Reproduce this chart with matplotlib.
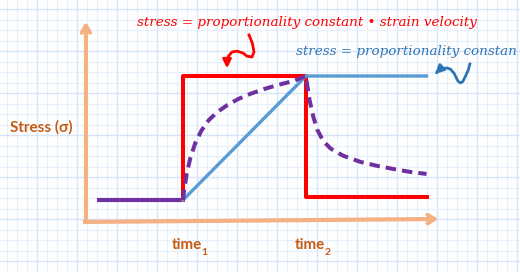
import numpy as np
import matplotlib
matplotlib.use('Agg')
import matplotlib.pyplot as plt

# time in units where time1 = 1 and time2 = 2, stress in units of the step height
time_ticks = ['time', 'time']
time_subs = ['1', '2']
tick_pos = [1.0, 2.0]

base_t = [0.30, 1.0]
base_s = [0.0, 0.0]

# red: stress proportional to strain velocity (step on, step off)
red_t = [1.0, 1.0, 2.0, 2.0, 2.98]
red_s = [0.0, 1.0, 1.0, 0.024, 0.024]

# blue: stress proportional to strain (ramp, then hold)
blue_t = [1.0, 2.0, 2.98]
blue_s = [0.0, 1.0, 1.0]

# purple dashed: viscoelastic response
purple_t = [1.0, 1.008, 1.03, 1.06, 1.10, 1.15, 1.21, 1.28, 1.36, 1.45, 1.55,
            1.66, 1.78, 1.90, 2.0, 2.008, 2.03, 2.06, 2.09, 2.14, 2.2, 2.3,
            2.44, 2.58, 2.71, 2.85, 2.98]
purple_s = [0.0, 0.07, 0.21, 0.34, 0.46, 0.56, 0.645, 0.71, 0.765, 0.815, 0.857,
            0.895, 0.93, 0.96, 1.0, 0.94, 0.80, 0.67, 0.57, 0.475, 0.415, 0.358,
            0.308, 0.275, 0.25, 0.226, 0.21]

# hand-drawn squiggly pointers (last point is the arrow tip)
red_sq_t = [1.537, 1.565, 1.577, 1.561, 1.52, 1.488, 1.44, 1.398, 1.37, 1.358, 1.358]
red_sq_s = [1.331, 1.26, 1.194, 1.153, 1.16, 1.185, 1.20, 1.194, 1.16, 1.105, 1.04]
blue_sq_t = [3.333, 3.32, 3.301, 3.275, 3.255, 3.235, 3.205, 3.175, 3.146, 3.11, 3.08, 3.033]
blue_sq_s = [1.097, 1.05, 1.008, 0.955, 0.944, 0.96, 1.02, 1.055, 1.065, 1.06, 1.045, 1.0]

label_font = ['Lato', 'DejaVu Sans']
brown = '#c55a11'
axis_col = '#f4b183'

fig = plt.figure(figsize=(5.2, 2.72), dpi=100)

# graph paper background in pixel units
bg = fig.add_axes([0, 0, 1, 1])
bg.set_xlim(0, 520)
bg.set_ylim(272, 0)
bg.axis('off')
for i, x in enumerate(np.arange(-3, 520, 10)):
    major = (i % 4) == 0
    bg.axvline(x, color='#d6e3f9' if major else '#e8effc', lw=1.0 if major else 0.8, zorder=0)
for i, y in enumerate(np.arange(9, 272, 10.5)):
    major = (i % 4) == 0
    bg.axhline(y, color='#d6e3f9' if major else '#e8effc', lw=1.0 if major else 0.8, zorder=0)

ax = fig.add_axes([0, 0, 1, 1])
ax.patch.set_alpha(0)
ax.axis('off')
ax.set_xlim(1 - 183 / 123, 1 + 337 / 123)
ax.set_ylim(-72 / 124, 200 / 124)

# stress and time axes
ax.annotate('', xy=(0.211, 1.46), xytext=(0.211, -0.177),
            arrowprops=dict(arrowstyle='->,head_length=0.5,head_width=0.3', color=axis_col, lw=3))
ax.annotate('', xy=(3.10, -0.153), xytext=(0.187, -0.177),
            arrowprops=dict(arrowstyle='->,head_length=0.5,head_width=0.3', color=axis_col, lw=3))
ax.plot([0.187, 0.211], [-0.177, -0.177], color=axis_col, lw=3, solid_capstyle='butt')

ax.plot(base_t, base_s, color='#7030a0', lw=3, solid_capstyle='butt')
ax.plot(blue_t, blue_s, color='#5b9bd5', lw=2.4, zorder=3)
ax.plot(red_t, red_s, color='#ff0000', lw=2.9, zorder=2)
ax.plot(purple_t, purple_s, color='#7030a0', lw=2.9, ls=(0, (2.6, 1.5)), zorder=4)

ax.plot(red_sq_t[:-1], red_sq_s[:-1], color='#ff0000', lw=2)
ax.annotate('', xy=(red_sq_t[-1], red_sq_s[-1]), xytext=(red_sq_t[-2], red_sq_s[-2] + 0.03),
            arrowprops=dict(arrowstyle='-|>,head_length=0.5,head_width=0.25', color='#ff0000', lw=2))
ax.plot(blue_sq_t[:-1], blue_sq_s[:-1], color='#2e75b6', lw=2)
ax.annotate('', xy=(blue_sq_t[-1], blue_sq_s[-1]), xytext=(blue_sq_t[-2], blue_sq_s[-2]),
            arrowprops=dict(arrowstyle='-|>,head_length=0.5,head_width=0.25', color='#2e75b6', lw=2))

ax.text(0.626, 1.435, 'stress = proportionality constant • strain velocity', color='#ff0000',
        family='DejaVu Serif', style='italic', fontsize=9.7, va='center', ha='left')
ax.text(1.919, 1.194, 'stress = proportionality constan', color='#2e75b6',
        family='DejaVu Serif', style='italic', fontsize=9.7, va='center', ha='left')

ax.text(-0.407, 0.589, 'Stress (σ)', color=brown, family=label_font, weight='bold',
        fontsize=11, va='center', ha='left')
for p, lab, sub in zip(tick_pos, time_ticks, time_subs):
    ax.text(p - 0.09, -0.363, lab, color=brown, family=label_font, weight='bold',
            fontsize=11, va='center', ha='left')
    ax.text(p + 0.148, -0.425, sub, color=brown, family=label_font, weight='bold',
            fontsize=7.5, va='center', ha='left')

fig.savefig('out.png', dpi=100)
